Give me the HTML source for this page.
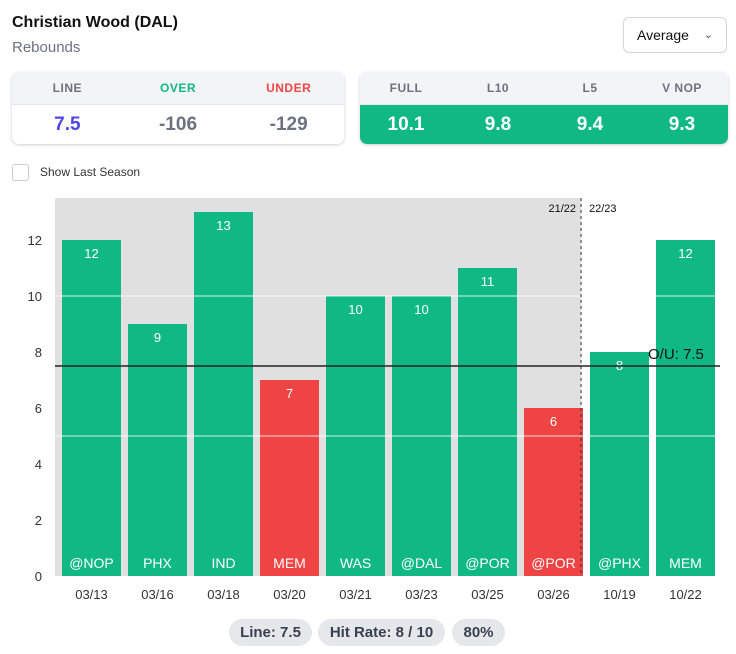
<!DOCTYPE html>
<html><head><meta charset="utf-8"><style>
body{margin:0;width:736px;height:654px;background:#fff;font-family:"Liberation Sans",sans-serif;position:relative;overflow:hidden}
.abs{position:absolute}
.card{position:absolute;top:72px;height:72px;border-radius:7px;box-shadow:0 1px 3px rgba(0,0,0,.2);overflow:hidden}
.hdr{height:32px;background:#f3f4f6;display:flex;border-bottom:1px solid #e5e7eb}
.row{display:flex;height:40px}
.c{flex:1;text-align:center}
.hdr .c{line-height:32px;font-size:12px;font-weight:bold;color:#6b7280;letter-spacing:.5px}
.row .c{line-height:40px;font-size:19px;font-weight:bold}
.pill{position:absolute;top:619px;height:27px;line-height:27px;background:#e5e7eb;border-radius:14px;font-size:15px;font-weight:bold;color:#374151;text-align:center}
</style></head><body>
<div class="abs" style="left:12px;top:14px;font-size:16px;font-weight:bold;color:#111">Christian Wood (DAL)</div>
<div class="abs" style="left:12px;top:39px;font-size:15px;color:#6b7280">Rebounds</div>
<div class="abs" style="left:623px;top:17px;width:104px;height:36px;border:1px solid #d1d5db;border-radius:6px;box-sizing:border-box;font-size:14px;line-height:34px;padding-left:13px;color:#111">Average<span style="position:absolute;right:13px;top:0;font-size:11px;color:#555">&#8964;</span></div>
<div class="card" style="left:12px;width:332px">
<div class="hdr"><div class="c">LINE</div><div class="c" style="color:#10b981">OVER</div><div class="c" style="color:#ef4444">UNDER</div></div>
<div class="row"><div class="c" style="color:#4f46e5">7.5</div><div class="c" style="color:#6b7280">-106</div><div class="c" style="color:#6b7280">-129</div></div></div>
<div class="card" style="left:360px;width:368px">
<div class="hdr"><div class="c">FULL</div><div class="c">L10</div><div class="c">L5</div><div class="c">V NOP</div></div>
<div class="row" style="background:#10b981;color:#fff"><div class="c">10.1</div><div class="c">9.8</div><div class="c">9.4</div><div class="c">9.3</div></div></div>
<div class="abs" style="left:12px;top:164px;width:15px;height:15px;border:1px solid #ccc;border-radius:3px"></div>
<div class="abs" style="left:40px;top:165px;font-size:12px;color:#333">Show Last Season</div>
<svg class="abs" style="left:0;top:0" width="736" height="654" id="chart"></svg>
<div class="pill" style="left:229px;width:83px">Line: 7.5</div>
<div class="pill" style="left:318px;width:127px">Hit Rate: 8 / 10</div>
<div class="pill" style="left:452px;width:53px">80%</div>
<script>
const dates=["03/13","03/16","03/18","03/20","03/21","03/23","03/25","03/26","10/19","10/22"];
const opponents=["@NOP","PHX","IND","MEM","WAS","@DAL","@POR","@POR","@PHX","MEM"];
const values=[12,9,13,7,10,10,11,6,8,12];
const yTicks=[0,2,4,6,8,10,12];
const lineValue=7.5;
const NS="http://www.w3.org/2000/svg";
const svg=document.getElementById('chart');
const y=v=>576-v*28;
const band=66,x0=58;
const x=i=>x0+i*band;
function mk(t,a){const e=document.createElementNS(NS,t);for(const k in a)e.setAttribute(k,a[k]);svg.appendChild(e);return e;}
const bg=mk('rect',{x:55,y:198,width:526,height:378,fill:'#e0e0e0'});


yTicks.forEach(t=>{const e=mk('text',{x:42,y:y(t)+5,'text-anchor':'end','font-size':13,fill:'#333','font-family':'Liberation Sans'});e.textContent=t;

});
values.forEach((v,i)=>{
const over=v>lineValue;
const r=mk('rect',{x:x(i)+4,y:y(v),width:band-7,height:576-y(v),fill:over?'#10b981':'#ef4444'});


const vt=mk('text',{x:x(i)+33.5,y:y(v)+18,'text-anchor':'middle','font-size':13,fill:'#fff','font-family':'Liberation Sans'});vt.textContent=v;


const ot=mk('text',{x:x(i)+33.5,y:568,'text-anchor':'middle','font-size':14,fill:'#fff','font-family':'Liberation Sans'});ot.textContent=opponents[i];


const dt=mk('text',{x:x(i)+33.5,y:599,'text-anchor':'middle','font-size':13,fill:'#333','font-family':'Liberation Sans'});dt.textContent=dates[i];


});
[10,5].forEach(g=>{const l=mk('line',{x1:55,x2:720,y1:y(g),y2:y(g),stroke:'#fff','stroke-opacity':.8,'stroke-width':1});

});
const sep=mk('line',{x1:581,x2:581,y1:198,y2:576,stroke:'#333','stroke-dasharray':'3,3'});


const s1=mk('text',{x:576,y:212,'text-anchor':'end','font-size':11,fill:'#111','font-family':'Liberation Sans'});s1.textContent='21/22';


const s2=mk('text',{x:589,y:212,'font-size':11,fill:'#111','font-family':'Liberation Sans'});s2.textContent='22/23';


const ll=mk('line',{x1:55,x2:720,y1:y(lineValue),y2:y(lineValue),stroke:'#222','stroke-width':1.5});


const lt=mk('text',{x:648,y:y(lineValue)-7,'font-size':15,fill:'#111','font-family':'Liberation Sans'});lt.textContent='O/U: '+lineValue;


</script>
</body></html>
